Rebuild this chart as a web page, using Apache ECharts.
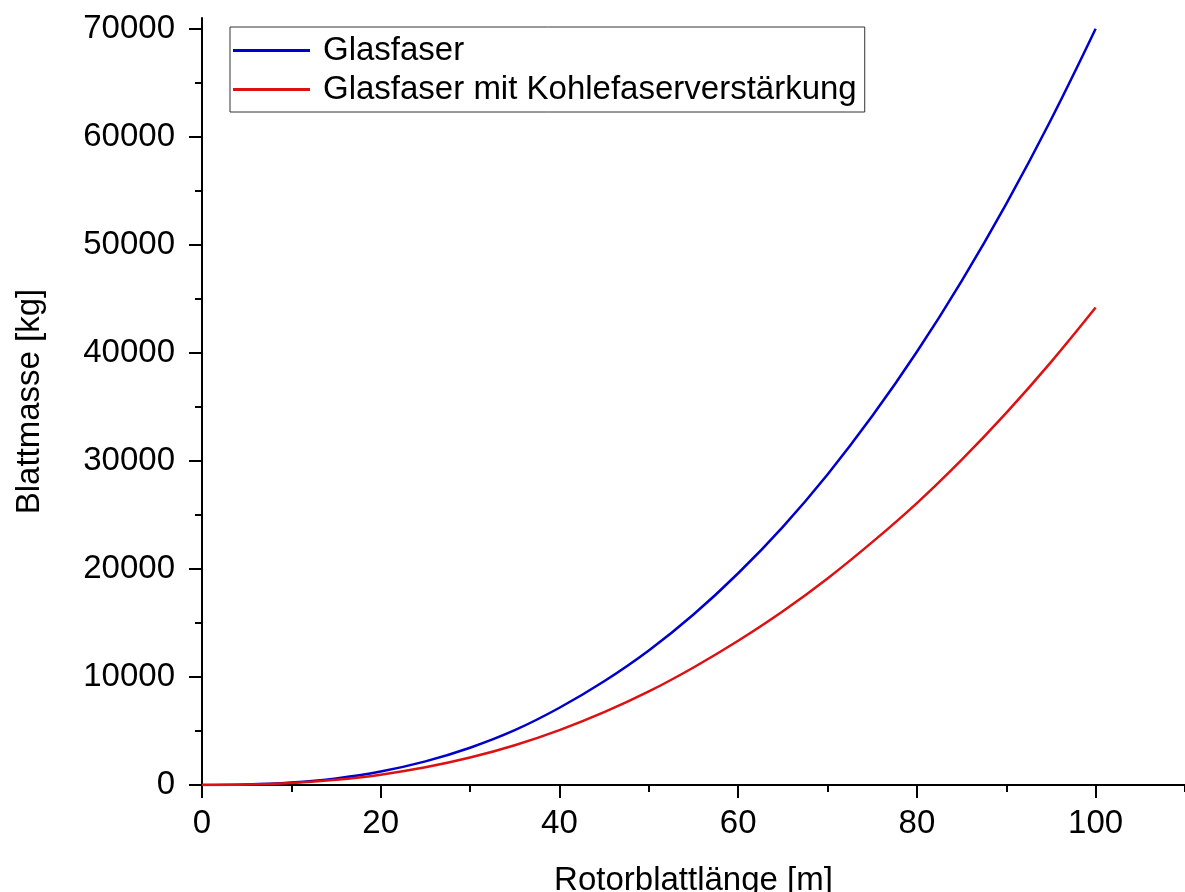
<!DOCTYPE html>
<html><head><meta charset="utf-8">
<script src="https://cdn.jsdelivr.net/npm/echarts@6/dist/echarts.min.js"></script>
<style>html,body{margin:0;padding:0;background:#fff}#c{width:1185px;height:892px}</style>
</head><body><div id="c"></div>
<script>
const xValues = [0,5,10,15,20,25,30,35,40,45,50,55,60,65,70,75,80,85,90,95,100];
const glasfaser = [0,39,221,610,1252,2188,3450,5073,7150,9600,12450,15780,19600,23900,28750,34150,40100,46650,53800,61580,70000];
const glasfaserKohle = [0,35,184,484,959,1640,2540,3680,5080,6740,8660,10880,13350,16080,19120,22480,26100,30100,34450,39150,44200];
const seriesNames = ['Glasfaser','Glasfaser mit Kohlefaserverstärkung'];
const xName = 'Rotorblattlänge [m]';
const yName = 'Blattmasse [kg]';
const xMajorTicks = [0,20,40,60,80,100];
const xMinorTicks = [10,30,50,70,90,110];
const yMajorTicks = [0,10000,20000,30000,40000,50000,60000,70000];
const yMinorTicks = [5000,15000,25000,35000,45000,55000,65000];

const FONT = 'Liberation Sans';
const FS = 33;
const chart = echarts.init(document.getElementById('c'), null, {renderer:'canvas'});
const axisLine = {show:true, lineStyle:{color:'#000', width:2}};
chart.setOption({
  backgroundColor:'#fff',
  animation:false,
  textStyle:{fontFamily:FONT},
  grid:{left:202, right:0, top:18, bottom:107, containLabel:false, outerBoundsMode:'none'},
  legend:{
    left:230, top:27, orient:'vertical', selectedMode:false,
    borderColor:'#333', borderWidth:1, padding:[7,8,6,3],
    itemWidth:77, itemHeight:3, itemGap:6, icon:'rect',
    textStyle:{fontFamily:FONT, fontSize:FS, color:'#000', lineHeight:32, padding:[0,0,0,8]},
    data:seriesNames
  },
  xAxis:[{
    type:'value', min:0, max:110,
    axisLine:axisLine,
    axisTick:{show:true, inside:false, length:13, customValues:xMajorTicks, lineStyle:{color:'#000', width:2}},
    axisLabel:{show:true, customValues:xMajorTicks, margin:22, color:'#000', fontFamily:FONT, fontSize:FS, formatter:v=>String(v)},
    splitLine:{show:false},
    name:xName, nameLocation:'middle', nameGap:79,
    nameTextStyle:{fontFamily:FONT, fontSize:FS, color:'#000'}
  },{
    type:'value', min:0, max:110, position:'bottom',
    axisLine:{show:false},
    axisTick:{show:true, inside:false, length:7, customValues:xMinorTicks, lineStyle:{color:'#000', width:2}},
    axisLabel:{show:false}, splitLine:{show:false}
  }],
  yAxis:[{
    type:'value', min:0, max:71000,
    axisLine:axisLine,
    axisTick:{show:true, inside:false, length:13, customValues:yMajorTicks, lineStyle:{color:'#000', width:2}},
    axisLabel:{show:true, customValues:yMajorTicks, margin:27, color:'#000', fontFamily:FONT, fontSize:FS, formatter:v=>String(v)},
    splitLine:{show:false},
    name:yName, nameLocation:'middle', nameGap:156, nameRotate:90,
    nameTextStyle:{fontFamily:FONT, fontSize:FS, color:'#000'}
  },{
    type:'value', min:0, max:71000, position:'left',
    axisLine:{show:false},
    axisTick:{show:true, inside:false, length:7, customValues:yMinorTicks, lineStyle:{color:'#000', width:2}},
    axisLabel:{show:false}, splitLine:{show:false}
  }],
  series:[{
    name:seriesNames[0], type:'line', xAxisIndex:0, yAxisIndex:0,
    data:xValues.map((x,i)=>[x, glasfaser[i]]),
    smooth:0.4, showSymbol:false,
    lineStyle:{color:'#0000CC', width:2.5}, itemStyle:{color:'#0000CC'}
  },{
    name:seriesNames[1], type:'line', xAxisIndex:0, yAxisIndex:0,
    data:xValues.map((x,i)=>[x, glasfaserKohle[i]]),
    smooth:0.4, showSymbol:false,
    lineStyle:{color:'#DD1111', width:2.5}, itemStyle:{color:'#DD1111'}
  }]
});
</script></body></html>
